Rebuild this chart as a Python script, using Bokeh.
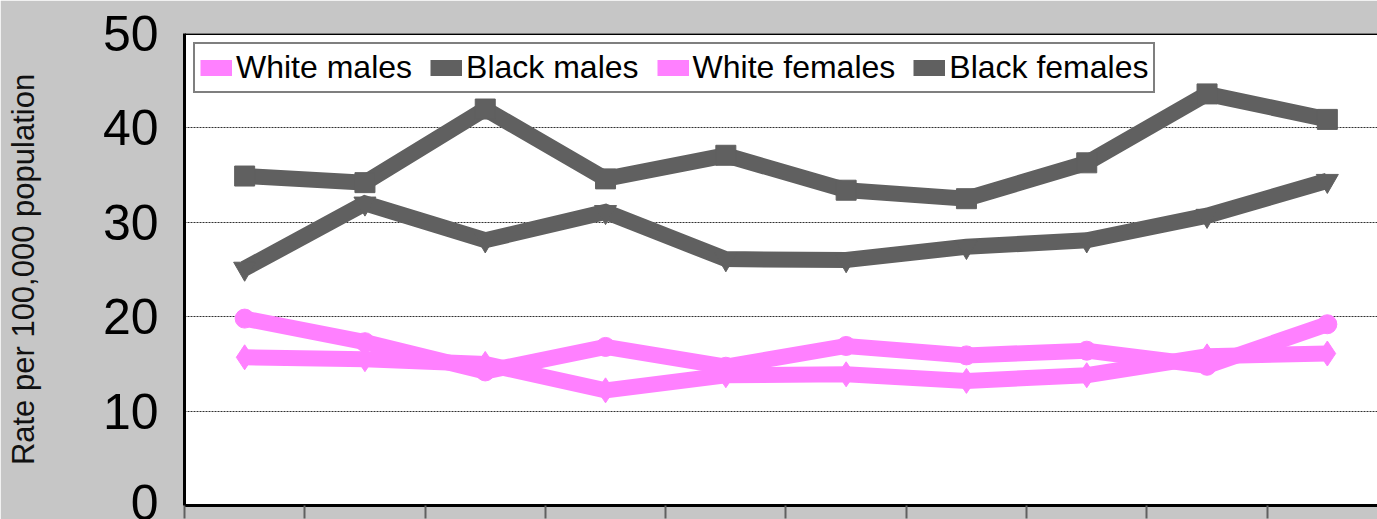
from bokeh.plotting import figure
from bokeh.models import Range1d, LinearAxis, FixedTicker, Legend, LegendItem, Grid, Span
from bokeh.embed import file_html
from bokeh.resources import INLINE

# Ten reporting periods along the horizontal axis
period_index = list(range(10))
period_edges = [i - 0.5 for i in range(11)]

# Rates per 100,000 population
white_males = [19.8, 17.3, 14.2, 16.8, 14.7, 16.9, 15.9, 16.4, 14.8, 19.2]
black_males = [34.9, 34.2, 42.0, 34.6, 37.1, 33.4, 32.5, 36.3, 43.6, 40.9]
white_females = [15.7, 15.5, 15.0, 12.2, 13.8, 13.9, 13.2, 13.8, 15.8, 16.1]
black_females = [25.1, 32.0, 28.1, 31.1, 26.1, 26.0, 27.4, 28.1, 30.7, 34.4]

y_ticks = [0, 10, 20, 30, 40, 50]
grid_ticks = [10, 20, 30, 40]

PINK = "#ff80ff"
GRAY = "#606060"
FONT = "Liberation Sans"

p = figure(
    width=1377, height=519,
    output_backend="svg", toolbar_location=None,
    x_range=Range1d(-0.5, 9.417), y_range=Range1d(0, 50),
    x_axis_location=None, y_axis_location=None,
    min_border_left=184, min_border_right=0,
    min_border_top=33, min_border_bottom=14,
    background_fill_color="white", border_fill_color="#c6c6c6",
    outline_line_color=None,
)
for g in p.grid:
    g.visible = False

p.add_layout(Grid(dimension=1, ticker=FixedTicker(ticks=grid_ticks),
                  grid_line_color="#303030", grid_line_width=1,
                  grid_line_dash="2 1"))

# Left value axis: big labels, no tick marks
yaxis = LinearAxis(ticker=FixedTicker(ticks=y_ticks),
                   axis_label="Rate per 100,000 population")
yaxis.axis_line_color = "black"
yaxis.axis_line_width = 3
yaxis.major_tick_out = 0
yaxis.major_tick_in = 0
yaxis.minor_tick_out = 0
yaxis.minor_tick_in = 0
yaxis.major_label_text_font = FONT
yaxis.major_label_text_font_size = "50px"
yaxis.major_label_text_color = "black"
yaxis.major_label_standoff = 26
yaxis.axis_label_text_font = FONT
yaxis.axis_label_text_font_size = "31px"
yaxis.axis_label_text_font_style = "normal"
yaxis.axis_label_text_color = "#111111"
yaxis.axis_label_standoff = 59
p.add_layout(yaxis, "left")

# Bottom axis: only the period separators
xaxis = LinearAxis(ticker=FixedTicker(ticks=[], minor_ticks=period_edges))
xaxis.axis_line_color = "black"
xaxis.axis_line_width = 3
xaxis.major_tick_out = 0
xaxis.major_tick_in = 0
xaxis.minor_tick_in = 0
xaxis.minor_tick_out = 13
xaxis.minor_tick_line_color = GRAY
xaxis.minor_tick_line_width = 2
p.add_layout(xaxis, "below")

# Top border of the plotting area
p.add_layout(Span(location=50, dimension="width", line_color="black", line_width=3))

LW = 16
r_wm = p.line(period_index, white_males, line_color=PINK, line_width=LW, line_join="miter")
r_wf = p.line(period_index, white_females, line_color=PINK, line_width=LW, line_join="miter")
r_bf = p.line(period_index, black_females, line_color=GRAY, line_width=LW, line_join="miter")
r_bm = p.line(period_index, black_males, line_color=GRAY, line_width=LW, line_join="miter")

p.scatter(period_index, white_males, marker="circle", size=19, fill_color=PINK, line_color=PINK)
p.scatter(period_index, white_females, marker="diamond", size=25, fill_color=PINK, line_color=PINK)
p.scatter(period_index, black_females, marker="inverted_triangle", size=22, fill_color=GRAY, line_color=GRAY)
p.scatter(period_index, black_males, marker="square", size=20, fill_color=GRAY, line_color=GRAY)

legend = Legend(
    items=[
        LegendItem(label="White males", renderers=[r_wm]),
        LegendItem(label="Black males", renderers=[r_bm]),
        LegendItem(label="White females", renderers=[r_wf]),
        LegendItem(label="Black females", renderers=[r_bf]),
    ],
    orientation="horizontal", location="top_left",
    label_text_font=FONT, label_text_font_size="32px", label_text_color="black",
    glyph_width=32, glyph_height=17, label_standoff=4, spacing=18,
    padding=5, margin=9,
    border_line_color="black", border_line_width=2,
    background_fill_color="white", background_fill_alpha=1.0,
)
p.add_layout(legend)

html = file_html(p, INLINE)
html = html.replace("<head>", "<head><style>html, body { margin: 0; padding: 0; overflow: hidden; }</style>", 1)
open("out.html", "w").write(html)
